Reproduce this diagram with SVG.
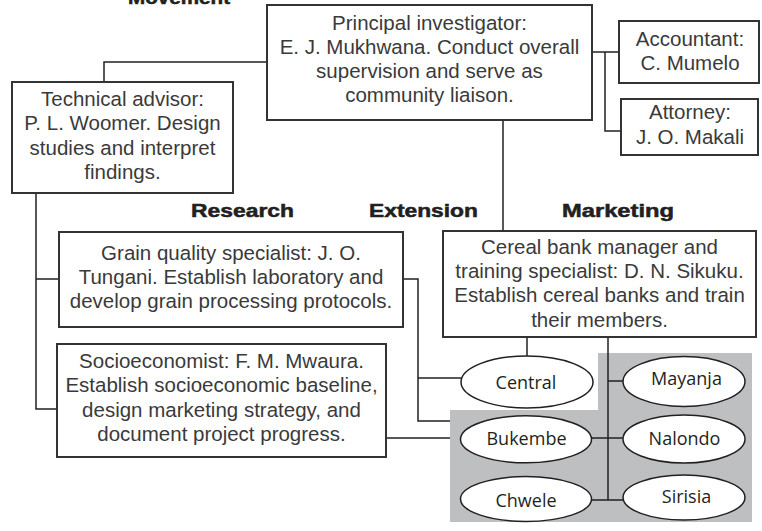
<svg xmlns="http://www.w3.org/2000/svg" width="762" height="531" viewBox="0 0 762 531">
<style>
.box{fill:#fff;stroke:#333;stroke-width:2}
.t{font-family:"Liberation Sans",Arial,sans-serif;font-size:20.5px;fill:#3a3a3a;text-anchor:middle}
.h{font-family:"Liberation Sans",Arial,sans-serif;font-size:18px;font-weight:bold;fill:#231f20;stroke:#231f20;stroke-width:0.5}
.ell{fill:#fff;stroke:#231f20;stroke-width:1.5}
.et{font-family:"Open Sans","Noto Sans",sans-serif;font-size:18px;fill:#231f20;text-anchor:middle}
.c{fill:none;stroke:#231f20;stroke-width:1.5}
</style>
<rect width="762" height="531" fill="#fff"/>
<path id="region" d="M598,353 H752 V522 H450 V410 H598 Z" fill="#bdbfc1"/>
<text class="h" x="128" y="4" textLength="102" lengthAdjust="spacingAndGlyphs">Movement</text>
<text class="h" x="191" y="217" textLength="103" lengthAdjust="spacingAndGlyphs">Research</text>
<text class="h" x="369" y="217" textLength="109" lengthAdjust="spacingAndGlyphs">Extension</text>
<text class="h" x="562" y="217" textLength="112" lengthAdjust="spacingAndGlyphs">Marketing</text>
<g id="connectors">
<path class="c" d="M104,82 V62 H267"/>
<path class="c" d="M592,52 H619"/>
<path class="c" d="M605,52 V131 H621"/>
<path class="c" d="M503,120 V231"/>
<path class="c" d="M36,193 V409 H57"/>
<path class="c" d="M36,279 H59"/>
<path class="c" d="M403,279 H418 V421 H450"/>
<path class="c" d="M418,378 H461"/>
<path class="c" d="M386,438 H450"/>
<path class="c" d="M527,337 V356"/>
<path class="c" d="M608,337 V500"/>
<path class="c" d="M608,381 H623"/>
<path class="c" d="M592,438 H623"/>
<path class="c" d="M592,500 H623"/>
</g>
<g id="principal">
<rect class="box" x="267" y="5" width="325" height="115"/>
<text class="t" x="429.5" y="29.5">Principal investigator:</text>
<text class="t" x="429.5" y="53.8">E. J. Mukhwana. Conduct overall</text>
<text class="t" x="429.5" y="78">supervision and serve as</text>
<text class="t" x="429.5" y="102.3">community liaison.</text>
</g>
<g id="technical">
<rect class="box" x="12" y="82" width="221" height="111"/>
<text class="t" x="122.5" y="106">Technical advisor:</text>
<text class="t" x="122.5" y="130.3">P. L. Woomer. Design</text>
<text class="t" x="122.5" y="154.6">studies and interpret</text>
<text class="t" x="122.5" y="179">findings.</text>
</g>
<g id="accountant">
<rect class="box" x="619" y="21" width="140" height="62"/>
<text class="t" x="690" y="46">Accountant:</text>
<text class="t" x="690" y="70">C. Mumelo</text>
</g>
<g id="attorney">
<rect class="box" x="621" y="99" width="137" height="56"/>
<text class="t" x="690" y="118.5">Attorney:</text>
<text class="t" x="690" y="144">J. O. Makali</text>
</g>
<g id="grain">
<rect class="box" x="59" y="232" width="344" height="95"/>
<text class="t" x="231" y="259.5">Grain quality specialist: J. O.</text>
<text class="t" x="231" y="283.5">Tungani. Establish laboratory and</text>
<text class="t" x="231" y="307.5">develop grain processing protocols.</text>
</g>
<g id="socio">
<rect class="box" x="57" y="344" width="329" height="113"/>
<text class="t" x="221.5" y="367.5">Socioeconomist: F. M. Mwaura.</text>
<text class="t" x="221.5" y="392">Establish socioeconomic baseline,</text>
<text class="t" x="221.5" y="416.5">design marketing strategy, and</text>
<text class="t" x="221.5" y="441">document project progress.</text>
</g>
<g id="cereal">
<rect class="box" x="443" y="231" width="313" height="106"/>
<text class="t" x="599.5" y="253.5">Cereal bank manager and</text>
<text class="t" x="599.5" y="277.8">training specialist: D. N. Sikuku.</text>
<text class="t" x="599.5" y="302">Establish cereal banks and train</text>
<text class="t" x="599.5" y="326.5">their members.</text>
</g>
<g id="central">
<ellipse class="ell" cx="527" cy="382" rx="66" ry="26"/>
<text class="et" x="526" y="388.5">Central</text>
</g>
<g id="mayanja">
<ellipse class="ell" cx="684" cy="381.5" rx="61" ry="25"/>
<text class="et" x="686.5" y="385">Mayanja</text>
</g>
<g id="bukembe">
<ellipse class="ell" cx="526" cy="439.3" rx="65.5" ry="23.5"/>
<text class="et" x="526.5" y="445">Bukembe</text>
</g>
<g id="nalondo">
<ellipse class="ell" cx="684" cy="439" rx="61" ry="24"/>
<text class="et" x="684.5" y="445">Nalondo</text>
</g>
<g id="chwele">
<ellipse class="ell" cx="526" cy="499" rx="65.5" ry="22.5"/>
<text class="et" x="526" y="506.5">Chwele</text>
</g>
<g id="sirisia">
<ellipse class="ell" cx="684" cy="497.5" rx="61" ry="22.5"/>
<text class="et" x="686.5" y="503.3">Sirisia</text>
</g>
</svg>
